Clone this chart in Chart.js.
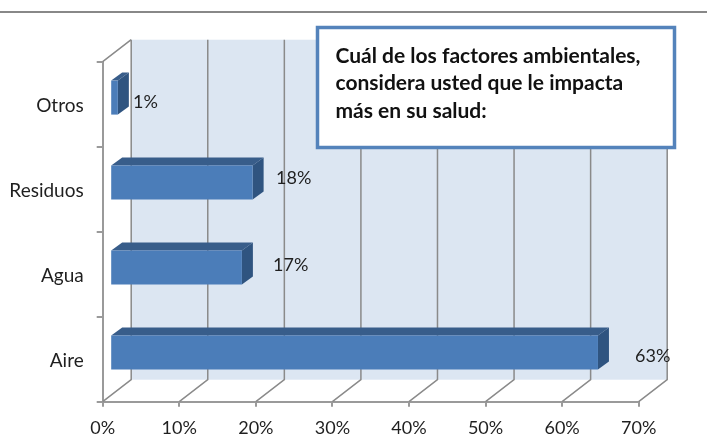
<!DOCTYPE html>
<html>
<head>
<meta charset="utf-8">
<script src="https://cdn.jsdelivr.net/npm/chart.js@4"></script>
<style>
  body { margin: 0; background: #fff; }
  canvas { display: block; }
</style>
</head>
<body>
<canvas id="factores" width="707" height="435"></canvas>
<script>
const categories = ["Otros", "Residuos", "Agua", "Aire"];
const values = [1, 18.6, 17.2, 63.7];
const value_labels = ["1%", "18%", "17%", "63%"];
const title_lines = ["Cuál de los factores ambientales,", "considera usted que le impacta", "más en su salud:"];

const FONT = "Lato";
const GRID_COLOR = "#8a8a8a";
const AXIS_COLOR = "#9a9a9a";
// 3d offsets : back wall, bar plane and bar depth
const WALL_DX = 28.5, WALL_DY = -22;
const BAR_DX = 7.5, BAR_DY = -6.6;
const DEPTH_DX = 11, DEPTH_DY = -8.2;
// labels were placed by hand in the original
const label_pos = [[133, 102], [276, 178], [273, 265], [635, 356]];

const wall = {
  id: "wall",
  beforeDatasetsDraw(chart) {
    const { ctx, chartArea: a, scales: { x } } = chart;
    ctx.save();
    ctx.fillStyle = "#dce6f2";
    ctx.fillRect(a.left + WALL_DX, a.top + WALL_DY, a.right - a.left, a.bottom - a.top);
    ctx.strokeStyle = GRID_COLOR;
    ctx.lineWidth = 1.5;
    ctx.beginPath();
    x.ticks.forEach((t) => {
      const px = x.getPixelForValue(t.value);
      ctx.moveTo(px, a.bottom);
      ctx.lineTo(px + WALL_DX, a.bottom + WALL_DY);
      ctx.lineTo(px + WALL_DX, a.top + WALL_DY);
    });
    ctx.moveTo(a.left, a.top);
    ctx.lineTo(a.left + WALL_DX, a.top + WALL_DY);
    ctx.stroke();
    ctx.restore();
  },
};

function face(ctx, color, pts) {
  ctx.fillStyle = color;
  ctx.beginPath();
  pts.forEach((p, i) => (i ? ctx.lineTo(p[0], p[1]) : ctx.moveTo(p[0], p[1])));
  ctx.closePath();
  ctx.fill();
}

const bars3d = {
  id: "bars3d",
  beforeDatasetDraw(chart, args) {
    const ctx = chart.ctx;
    ctx.save();
    ctx.translate(BAR_DX, BAR_DY);
    chart.getDatasetMeta(args.index).data.forEach((el) => {
      const top = el.y - el.height / 2, bottom = el.y + el.height / 2;
      face(ctx, "#385d8a", [[el.base, top], [el.x, top], [el.x + DEPTH_DX, top + DEPTH_DY], [el.base + DEPTH_DX, top + DEPTH_DY]]);
      face(ctx, "#2f5480", [[el.x, top], [el.x + DEPTH_DX, top + DEPTH_DY], [el.x + DEPTH_DX, bottom + DEPTH_DY], [el.x, bottom]]);
    });
  },
  afterDatasetDraw(chart) {
    chart.ctx.restore();
  },
};

const overlay = {
  id: "overlay",
  afterDraw(chart) {
    const ctx = chart.ctx;
    ctx.save();
    // line at the top of the slide
    ctx.fillStyle = "#888888";
    ctx.fillRect(0, 11, 707, 2);

    ctx.fillStyle = "#1f1f1f";
    ctx.font = "18px " + FONT;
    ctx.textAlign = "left";
    ctx.textBaseline = "middle";
    value_labels.forEach((l, i) => ctx.fillText(l, label_pos[i][0], label_pos[i][1]));

    ctx.fillStyle = "#fff";
    ctx.strokeStyle = "#5483bb";
    ctx.lineWidth = 3.5;
    ctx.fillRect(317.5, 27.5, 357, 120);
    ctx.strokeRect(317.5, 27.5, 357, 120);

    ctx.fillStyle = "#111";
    ctx.font = "bold 21px " + FONT;
    title_lines.forEach((l, i) => ctx.fillText(l, 335.5, 56 + i * 27.5));
    ctx.restore();
  },
};

const config = {
  type: "bar",
  data: {
    labels: categories,
    datasets: [
      {
        data: values,
        backgroundColor: "#4b7db9",
        borderWidth: 0,
        barPercentage: 0.4,
        categoryPercentage: 1,
        clip: false,
      },
    ],
  },
  options: {
    indexAxis: "y",
    responsive: false,
    animation: false,
    layout: { padding: { top: 61.7, right: 68.3, left: 0, bottom: 0 } },
    plugins: {
      legend: { display: false },
      title: { display: false },
      tooltip: { enabled: false },
    },
    scales: {
      x: {
        min: 0,
        max: 70,
        afterFit(s) { s.height = 33.3; },
        ticks: {
          stepSize: 10,
          padding: 11,
          maxRotation: 0,
          color: "#1f1f1f",
          font: { family: FONT, size: 18 },
          callback: (v) => v + "%",
        },
        grid: { drawOnChartArea: false, color: AXIS_COLOR, lineWidth: 2, tickLength: 5 },
        border: { color: AXIS_COLOR, width: 2 },
      },
      y: {
        afterFit(s) { s.width = 102.7; },
        ticks: {
          padding: 13,
          labelOffset: 2,
          color: "#1f1f1f",
          font: { family: FONT, size: 19 },
        },
        grid: { drawOnChartArea: false, color: AXIS_COLOR, lineWidth: 2, tickLength: 6 },
        border: { color: AXIS_COLOR, width: 2 },
      },
    },
  },
  plugins: [wall, bars3d, overlay],
};

new Chart(document.getElementById("factores"), config);
</script>
</body>
</html>
